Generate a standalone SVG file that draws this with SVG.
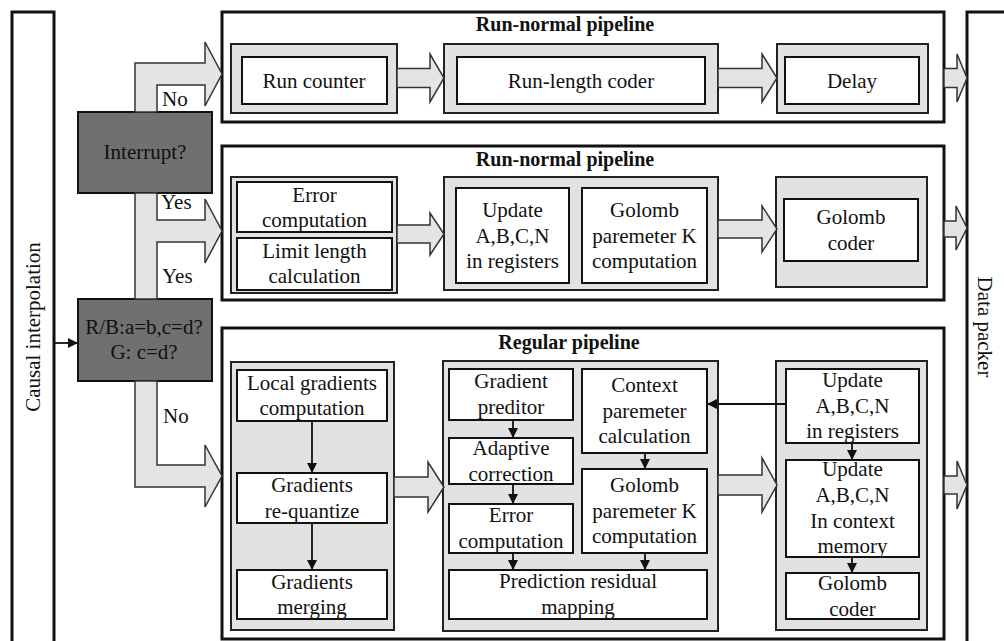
<svg xmlns="http://www.w3.org/2000/svg" width="1004" height="641" viewBox="0 0 1004 641">
<defs>
<style>
text{font-family:"Liberation Serif","Times New Roman",serif;font-size:21px;fill:#111;text-anchor:middle}
.title{font-weight:bold;font-size:20px}
.lbl{text-anchor:start}
.pipe{fill:#fff;stroke:#111;stroke-width:3}
.side{fill:#fff;stroke:#111;stroke-width:3}
.grp{fill:#e2e2e2;stroke:#222;stroke-width:2}
.box{fill:#fff;stroke:#111;stroke-width:2}
.dec{fill:#707070;stroke:#111;stroke-width:2}
.fat{fill:#e4e4e4;stroke:#333;stroke-width:1.5;stroke-linejoin:miter}
.ln{stroke:#111;stroke-width:1.8;fill:none;marker-end:url(#ah)}
</style>
<marker id="ah" viewBox="0 0 10 10" refX="10" refY="5" markerWidth="10" markerHeight="10" markerUnits="userSpaceOnUse" orient="auto">
<path d="M0,0 L10,5 L0,10 z" fill="#111"/>
</marker>
</defs>

<g id="causal">
<rect class="side" x="12" y="12" width="42" height="640"/>
<text transform="translate(40,327) rotate(-90)">Causal interpolation</text>
</g>
<g id="packer">
<rect class="side" x="967" y="12" width="60" height="640"/>
<text transform="translate(978,327) rotate(90)">Data packer</text>
</g>

<g id="pipe1">
<rect class="pipe" x="222" y="12" width="722" height="110"/>
<text class="title" x="565" y="31">Run-normal pipeline</text>
</g>
<g id="runcounter">
<rect class="grp" x="231" y="44" width="166" height="69"/>
<rect class="box" x="242" y="57" width="145" height="47"/>
<text x="314" y="88">Run counter</text>
</g>
<g id="runlength">
<rect class="grp" x="444" y="44" width="274" height="69"/>
<rect class="box" x="457" y="57" width="248" height="47"/>
<text x="581" y="88">Run-length coder</text>
</g>
<g id="delay">
<rect class="grp" x="777" y="44" width="151" height="69"/>
<rect class="box" x="785" y="57" width="134" height="47"/>
<text x="852" y="88">Delay</text>
</g>

<g id="pipe2">
<rect class="pipe" x="222" y="146" width="722" height="154"/>
<text class="title" x="565" y="166">Run-normal pipeline</text>
</g>
<g id="errlimit">
<rect class="grp" x="231" y="177" width="166" height="116"/>
<rect class="box" x="237" y="182" width="155" height="50"/>
<text x="314.5" y="201.5">Error</text>
<text x="314.5" y="227">computation</text>
<rect class="box" x="237" y="238" width="155" height="52"/>
<text x="314.5" y="257.5">Limit length</text>
<text x="314.5" y="283">calculation</text>
</g>
<g id="updgolomb">
<rect class="grp" x="444" y="177" width="274" height="113"/>
<rect class="box" x="456" y="188" width="113" height="95"/>
<text x="512.5" y="217">Update</text>
<text x="512.5" y="242.5">A,B,C,N</text>
<text x="512.5" y="268">in registers</text>
<rect class="box" x="582" y="188" width="125" height="95"/>
<text x="644.5" y="217">Golomb</text>
<text x="644.5" y="242.5">paremeter K</text>
<text x="644.5" y="268">computation</text>
</g>
<g id="golombcoder1">
<rect class="grp" x="776" y="177" width="151" height="110"/>
<rect class="box" x="784" y="199" width="134" height="62"/>
<text x="851" y="224">Golomb</text>
<text x="851" y="249.5">coder</text>
</g>

<g id="pipe3">
<rect class="pipe" x="222" y="328" width="722" height="311"/>
<text class="title" x="569" y="349">Regular pipeline</text>
</g>
<g id="gradgroup">
<rect class="grp" x="231" y="362" width="163" height="268"/>
<rect class="box" x="237" y="370" width="150" height="51"/>
<text x="312" y="389.5">Local gradients</text>
<text x="312" y="415">computation</text>
<rect class="box" x="237" y="473" width="150" height="50"/>
<text x="312" y="492">Gradients</text>
<text x="312" y="517.5">re-quantize</text>
<rect class="box" x="237" y="570" width="150" height="49"/>
<text x="312" y="588.5">Gradients</text>
<text x="312" y="614">merging</text>
</g>
<g id="predgroup">
<rect class="grp" x="443" y="361" width="275" height="270"/>
<rect class="box" x="449" y="369" width="124" height="51"/>
<text x="511" y="388">Gradient</text>
<text x="511" y="414">preditor</text>
<rect class="box" x="449" y="438" width="124" height="46"/>
<text x="511" y="455">Adaptive</text>
<text x="511" y="480.5">correction</text>
<rect class="box" x="449" y="504" width="124" height="49"/>
<text x="511" y="522">Error</text>
<text x="511" y="547.5">computation</text>
<rect class="box" x="582" y="369" width="125" height="84"/>
<text x="644.5" y="392">Context</text>
<text x="644.5" y="417.5">paremeter</text>
<text x="644.5" y="443">calculation</text>
<rect class="box" x="582" y="469" width="125" height="84"/>
<text x="644.5" y="492">Golomb</text>
<text x="644.5" y="517.5">paremeter K</text>
<text x="644.5" y="543">computation</text>
<rect class="box" x="449" y="570" width="258" height="49"/>
<text x="578" y="588">Prediction residual</text>
<text x="578" y="613.5">mapping</text>
</g>
<g id="updgroup">
<rect class="grp" x="776" y="361" width="151" height="269"/>
<rect class="box" x="786" y="369" width="133" height="74"/>
<text x="852.5" y="387">Update</text>
<text x="852.5" y="412.5">A,B,C,N</text>
<text x="852.5" y="438">in registers</text>
<rect class="box" x="786" y="460" width="133" height="97"/>
<text x="852.5" y="476">Update</text>
<text x="852.5" y="502">A,B,C,N</text>
<text x="852.5" y="528">In context</text>
<text x="852.5" y="553">memory</text>
<rect class="box" x="786" y="573" width="133" height="46"/>
<text x="852.5" y="590">Golomb</text>
<text x="852.5" y="615.5">coder</text>
</g>

<g id="interrupt">
<rect class="dec" x="78" y="112" width="134" height="81"/>
<text x="145" y="159">Interrupt?</text>
</g>
<g id="rbdecision">
<rect class="dec" x="78" y="299" width="134" height="82"/>
<text x="144" y="333.5">R/B:a=b,c=d?</text>
<text x="144" y="358.5">G: c=d?</text>
</g>

<g id="connectors">
<polygon class="fat" points="135,112 135,63 205,63 205,42 222,74 205,106 205,85 157,85 157,112"/>
<polygon class="fat" points="135,193 135,299 157,299 157,242 205,242 205,263 222,231 205,199 205,220 157,220 157,193"/>
<polygon class="fat" points="135,381 135,487 205,487 205,507 222,476 205,445 205,465 157,465 157,381"/>
<polygon class="fat" points="397,68.5 430,68.5 430,54 444,78 430,102 430,87.5 397,87.5"/>
<polygon class="fat" points="718,68.5 762,68.5 762,54 777,78 762,102 762,87.5 718,87.5"/>
<polygon class="fat" points="944,68.5 957,68.5 957,54 967,78 957,102 957,87.5 944,87.5"/>
<polygon class="fat" points="397,225 430,225 430,213 444,234 430,255 430,243 397,243"/>
<polygon class="fat" points="718,220 762,220 762,206 777,229 762,252 762,238 718,238"/>
<polygon class="fat" points="944,221 956,221 956,206 967,228 956,250 956,237 944,237"/>
<polygon class="fat" points="394,477 428,477 428,462 444,487 428,512 428,497 394,497"/>
<polygon class="fat" points="718,475 762,475 762,458 777,485 762,512 762,495 718,495"/>
<polygon class="fat" points="944,476 957,476 957,461 967,485 957,509 957,494 944,494"/>
<line class="ln" x1="55" y1="343" x2="78" y2="343"/>
<line class="ln" x1="312" y1="421" x2="312" y2="473"/>
<line class="ln" x1="312" y1="523" x2="312" y2="570"/>
<line class="ln" x1="513" y1="420" x2="513" y2="438"/>
<line class="ln" x1="513" y1="484" x2="513" y2="504"/>
<line class="ln" x1="513" y1="553" x2="513" y2="570"/>
<line class="ln" x1="645" y1="453" x2="645" y2="469"/>
<line class="ln" x1="645" y1="553" x2="645" y2="570"/>
<line class="ln" x1="852" y1="443" x2="852" y2="460"/>
<line class="ln" x1="852" y1="557" x2="852" y2="573"/>
<line class="ln" x1="786" y1="404" x2="707" y2="404"/>
<text class="lbl" x="162" y="106">No</text>
<text class="lbl" x="161" y="209">Yes</text>
<text class="lbl" x="162" y="283">Yes</text>
<text class="lbl" x="163" y="423">No</text>
</g>
</svg>
